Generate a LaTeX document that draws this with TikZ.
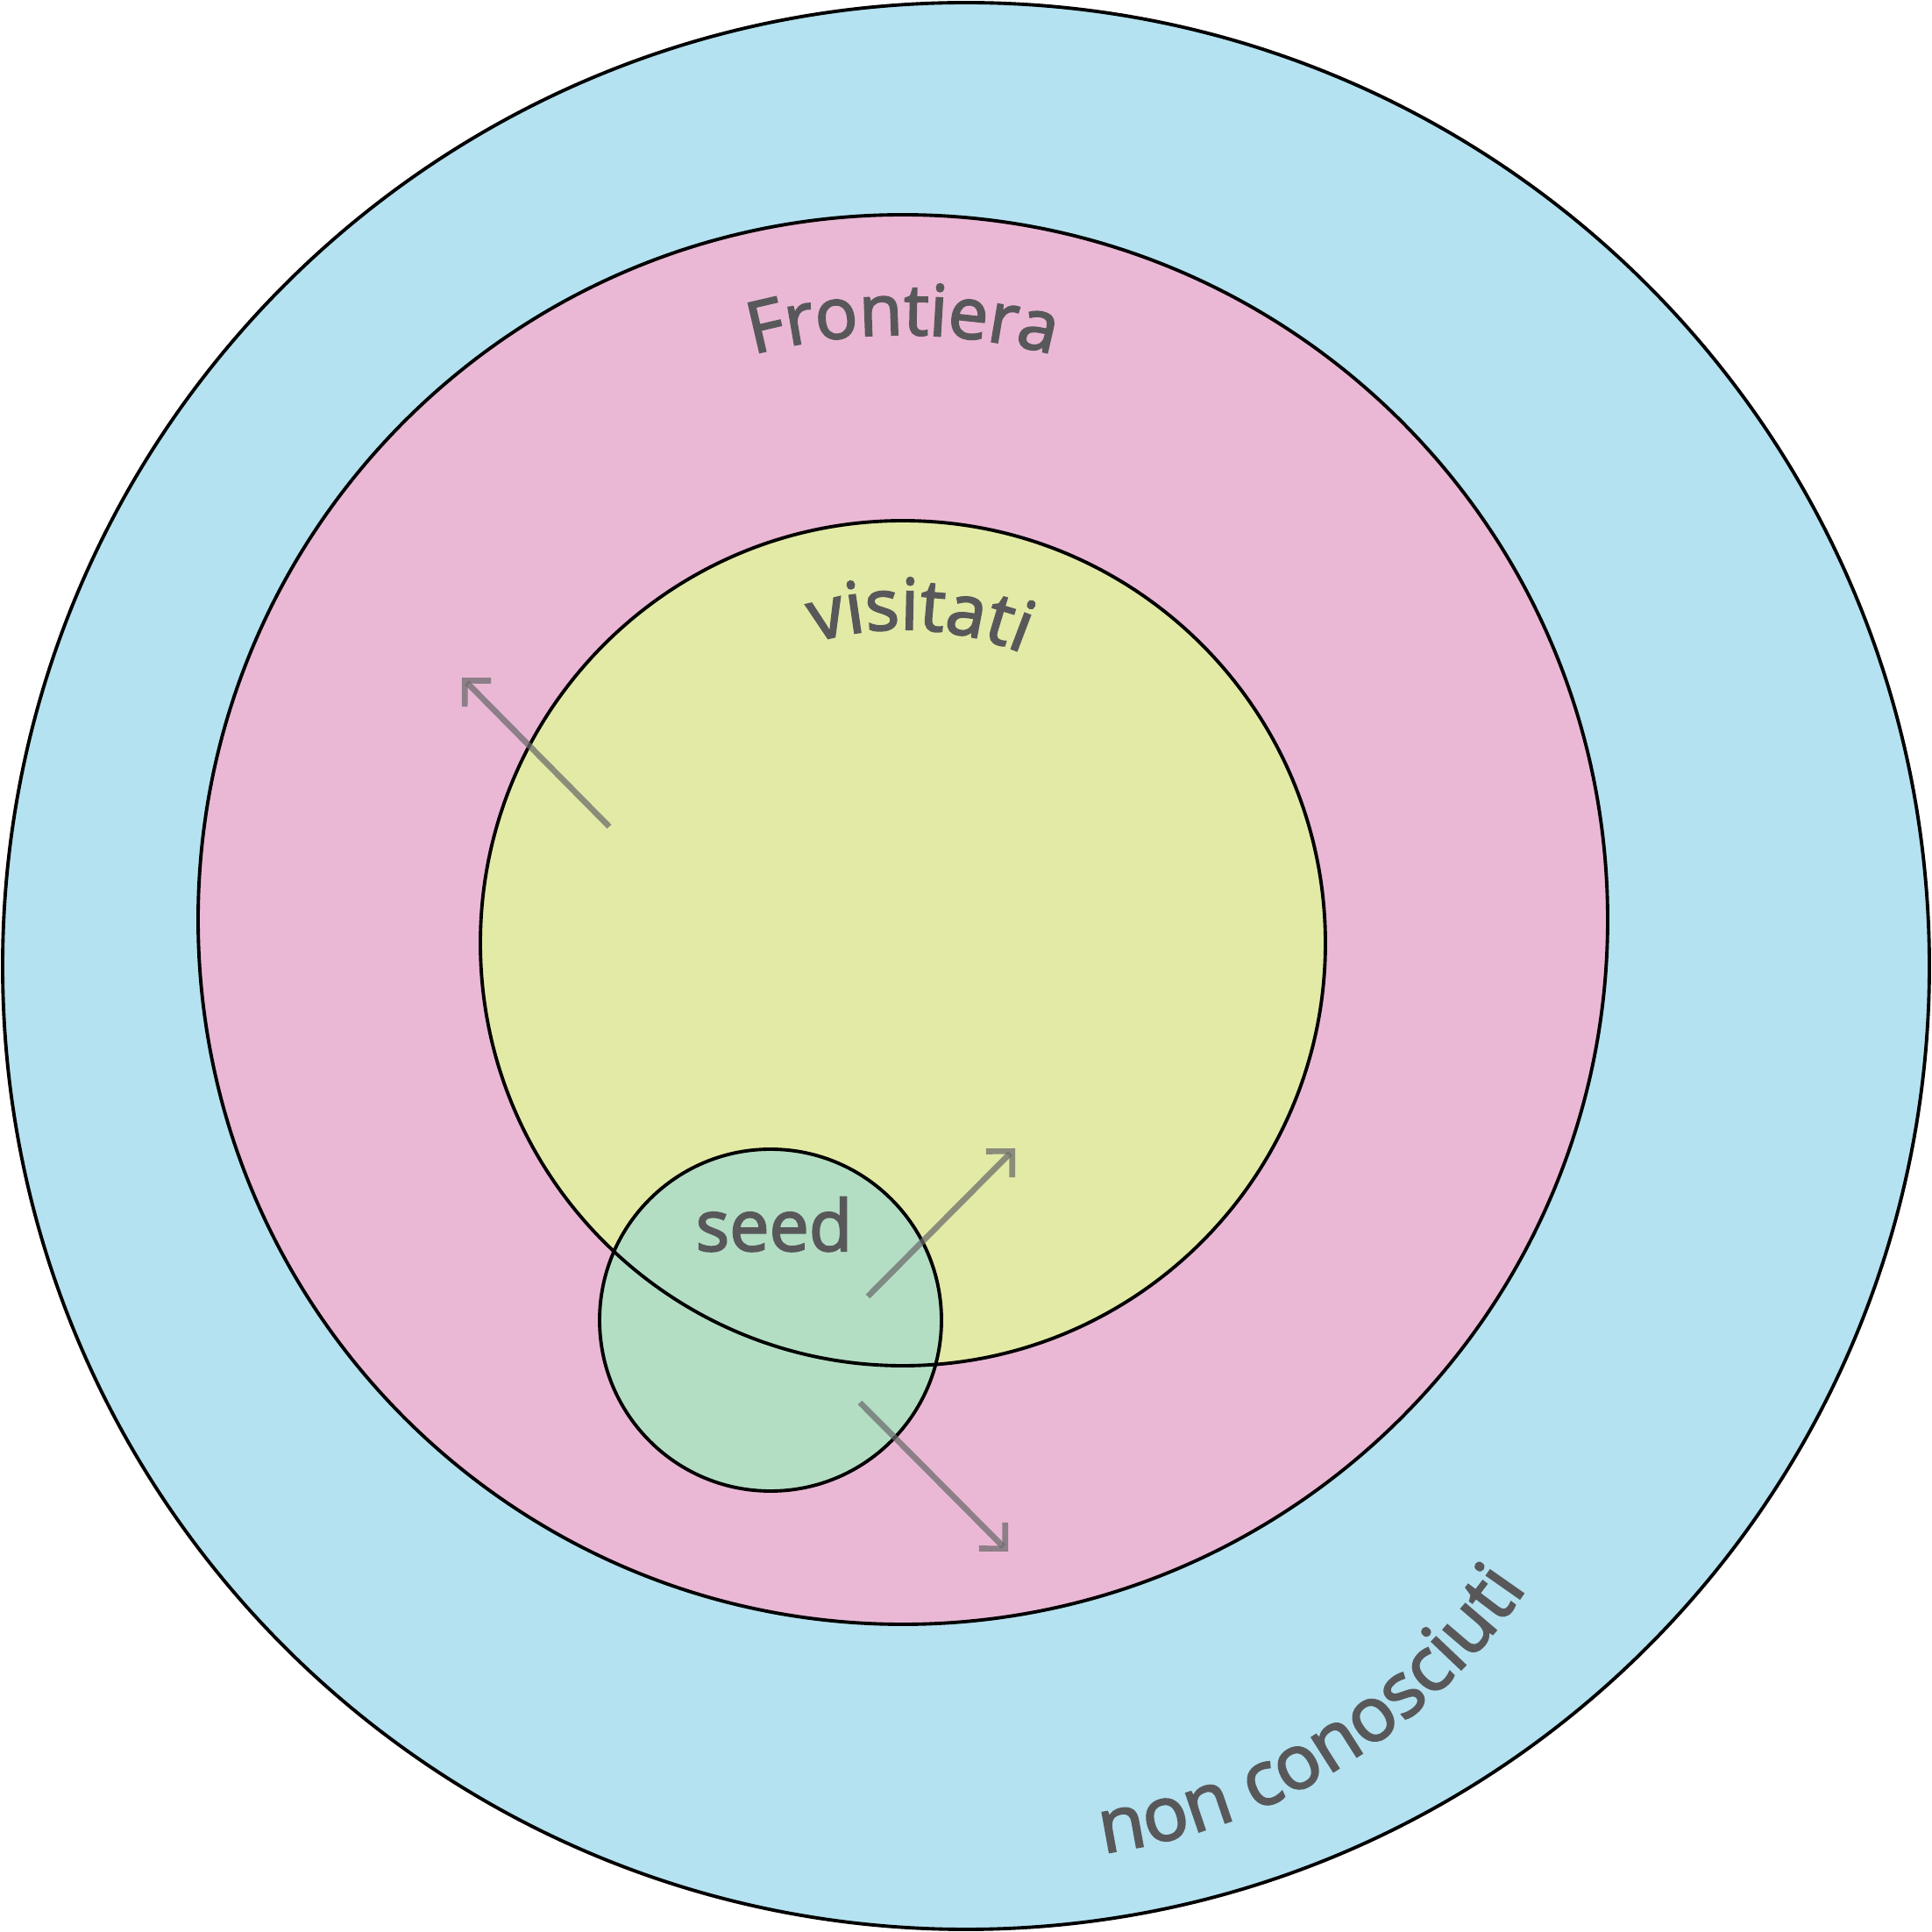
\documentclass[tikz,border=0pt]{standalone}
\usepackage{fontspec}
\setmainfont{Open Sans}
\newfontfamily\labelfamily{Open Sans}[FakeBold=2.5]
\usetikzlibrary{arrows.meta,decorations.text}
\definecolor{outerblue}{RGB}{180,226,240}
\definecolor{frontpink}{RGB}{234,184,213}
\definecolor{visityellow}{RGB}{227,234,166}
\definecolor{seedgreen}{RGB}{180,222,196}
\definecolor{txtgray}{RGB}{88,88,90}
\definecolor{arrowgray}{RGB}{106,106,106}
\newcommand{\lblfont}{\labelfamily\fontsize{23}{28}\selectfont}
\newcommand{\widelblfont}{\labelfamily\fontsize{24.5}{29}\selectfont}
\tikzset{
  ring/.style={draw=black, line width=1.1pt},
  spreadarrow/.style={draw=arrowgray, draw opacity=0.72, line width=1.9pt, -{Straight Barb[length=0.21cm,width=0.42cm]}},
  curved label/.style={decorate, decoration={text along path, text align=center, text color=txtgray, text={|\lblfont|#1}}},
  outer label/.style={decorate, decoration={text along path, text align=center, text color=txtgray, text={|\widelblfont|#1}}}
}
\begin{document}
\begin{tikzpicture}
		\useasboundingbox (0,0) rectangle (22.04,22.04);
		\coordinate (C0) at (11.02,11.02);
		\coordinate (C1) at (10.30,11.55);
		\coordinate (C2) at (10.30,11.28);
		\coordinate (C3) at (8.79,6.98);
		\coordinate (C4) at (11.59,7.87);
		\coordinate (A1) at (6.95,12.61);
		\coordinate (B1) at (5.27,14.31);
		\coordinate (A2) at (9.90,7.25);
		\coordinate (B2) at (11.58,8.94);
		\coordinate (A3) at (9.81,6.04);
		\coordinate (B3) at (11.50,4.34);
		\draw[ring, fill=outerblue] (C0) circle [radius=10.99];
		\draw[ring, fill=frontpink] (C1) circle [radius=8.04];
		\fill[visityellow] (C2) circle [radius=4.82];
		\draw[ring, fill=seedgreen] (C3) circle [radius=1.95];
		\draw[ring] (C2) circle [radius=4.82];
		\path[curved label=Frontiera] (C1) ++(117:6.67) arc [start angle=117, end angle=63, radius=6.67];
		\path[curved label=visitati] (C2) ++(122:3.58) arc [start angle=122, end angle=52, radius=3.58];
		\path[outer label=non conosciuti] (C4) ++(-94:7.04) arc [start angle=-94, end angle=-22, radius=7.04];
		\node[anchor=base, text=txtgray, font=\lblfont] (seed) at (8.83,7.77) {seed};
		\draw[spreadarrow] (A1) -- (B1);
		\draw[spreadarrow] (A2) -- (B2);
		\draw[spreadarrow] (A3) -- (B3);
		\end{tikzpicture}
\end{document}
